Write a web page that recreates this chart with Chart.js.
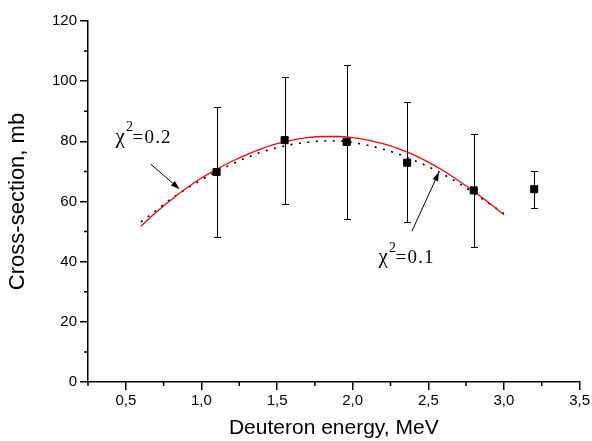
<!DOCTYPE html>
<html lang="en">
<head>
  <meta charset="utf-8">
  <title>Cross-section vs deuteron energy</title>
  <script src="https://cdn.jsdelivr.net/npm/chart.js@4"></script>
  <style>
    body { margin: 0; background: #fff; }
    #wrap { width: 592px; height: 441px; }
  </style>
</head>
<body>
  <div id="wrap"><canvas id="chart"></canvas></div>
  <script>
    // measured points: energy (MeV), cross-section (mb) and error bar limits
    const energy = [1.1, 1.55, 1.96, 2.36, 2.8, 3.2];
    const xsec = [69.8, 80.4, 79.8, 72.9, 63.7, 64.1];
    const errLow = [48.2, 59.1, 54.1, 53.1, 44.9, 57.7];
    const errHigh = [91.3, 101.4, 105.5, 93.1, 82.5, 70.2];

    // fitted curves
    const fitEnergy = [0.6, 0.7, 0.8, 0.9, 1.0, 1.1, 1.2, 1.3, 1.4, 1.5, 1.6, 1.7, 1.8,
      1.9, 2.0, 2.1, 2.2, 2.3, 2.4, 2.5, 2.6, 2.7, 2.8, 2.9, 3.0];
    const fitChi02 = [51.8, 56.4, 60.6, 64.4, 67.8, 70.7, 73.3, 75.6, 77.6, 79.2, 80.4, 81.2, 81.6,
      81.6, 81.2, 80.4, 79.2, 77.6, 75.6, 73.1, 70.2, 66.9, 63.4, 59.6, 55.6];
    const fitChi01 = [53.2, 57.0, 60.9, 64.2, 67.2, 69.9, 72.4, 74.6, 76.5, 77.9, 79.0, 79.7, 80.1,
      80.1, 79.6, 78.7, 77.4, 75.8, 73.8, 71.6, 69.0, 66.1, 62.8, 59.4, 56.0];

    const xTicks = [0.5, 1.0, 1.5, 2.0, 2.5, 3.0, 3.5];
    const yTicks = [0, 20, 40, 60, 80, 100, 120];

    // chi^2 notes: text anchor and arrow tail -> head, all in axis units
    const chiNotes = [
      { value: '0.2', x: 0.432, y: 79.6, from: [0.665, 72.4], to: [0.856, 64.1] },
      { value: '0.1', x: 2.171, y: 39.4, from: [2.391, 50.1], to: [2.571, 69.8] }
    ];

    const sans = '"Liberation Sans", Arial, sans-serif';
    const serif = '"Liberation Serif", "Times New Roman", serif';

    function pts(xs, ys) {
      return xs.map((v, i) => ({ x: v, y: ys[i] }));
    }

    const extras = {
      id: 'extras',
      beforeDatasetsDraw(chart) {
        const { ctx, scales: { x, y } } = chart;
        ctx.save();
        ctx.strokeStyle = '#000';
        ctx.lineWidth = 1;
        energy.forEach((e, i) => {
          const px = Math.round(x.getPixelForValue(e)) + 0.5;
          const top = Math.round(y.getPixelForValue(errHigh[i])) + 0.5;
          const bot = Math.round(y.getPixelForValue(errLow[i])) + 0.5;
          ctx.beginPath();
          ctx.moveTo(px, top); ctx.lineTo(px, bot);
          ctx.moveTo(px - 3.5, top); ctx.lineTo(px + 3.5, top);
          ctx.moveTo(px - 3.5, bot); ctx.lineTo(px + 3.5, bot);
          ctx.stroke();
        });
        ctx.restore();
      },
      afterDraw(chart) {
        const { ctx, scales: { x, y } } = chart;
        ctx.save();
        ctx.strokeStyle = '#000';
        ctx.lineWidth = 1.5;

        // short unlabelled ticks halfway between the labelled ones
        ctx.beginPath();
        xTicks.forEach(t => {
          const px = x.getPixelForValue(t - 0.25);
          ctx.moveTo(px, y.bottom); ctx.lineTo(px, y.bottom + 4);
        });
        yTicks.slice(1).forEach(t => {
          const py = y.getPixelForValue(t - 10);
          ctx.moveTo(x.left, py); ctx.lineTo(x.left - 4, py);
        });
        ctx.stroke();

        // chi^2 labels with arrows
        ctx.fillStyle = '#000';
        ctx.lineWidth = 1;
        chiNotes.forEach(n => {
          const tx = x.getPixelForValue(n.x);
          const ty = y.getPixelForValue(n.y);
          ctx.textBaseline = 'alphabetic';
          ctx.textAlign = 'left';
          ctx.font = '21px ' + serif;
          ctx.fillText('\u03c7', tx, ty);
          ctx.font = '14px ' + serif;
          ctx.fillText('2', tx + 10.5, ty - 11.5);
          ctx.font = '19px ' + serif;
          ctx.letterSpacing = '1.2px';
          ctx.fillText('=' + n.value, tx + 17, ty);
          ctx.letterSpacing = '0px';

          const x0 = x.getPixelForValue(n.from[0]), y0 = y.getPixelForValue(n.from[1]);
          const x1 = x.getPixelForValue(n.to[0]), y1 = y.getPixelForValue(n.to[1]);
          const ang = Math.atan2(y1 - y0, x1 - x0);
          const len = 9, half = 3;
          const bx = x1 - len * Math.cos(ang), by = y1 - len * Math.sin(ang);
          ctx.beginPath();
          ctx.moveTo(x0, y0); ctx.lineTo(bx, by);
          ctx.stroke();
          ctx.beginPath();
          ctx.moveTo(x1, y1);
          ctx.lineTo(bx + half * Math.sin(ang), by - half * Math.cos(ang));
          ctx.lineTo(bx - half * Math.sin(ang), by + half * Math.cos(ang));
          ctx.closePath();
          ctx.fill();
        });
        ctx.restore();
      }
    };

    new Chart(document.getElementById('chart'), {
      type: 'scatter',
      data: {
        datasets: [
          {
            label: 'data',
            data: pts(energy, xsec),
            pointStyle: 'rect',
            pointRadius: 5,
            pointBackgroundColor: '#000',
            pointBorderColor: '#000',
            pointBorderWidth: 1,
            order: 0
          },
          {
            label: 'chi2 = 0.2',
            data: pts(fitEnergy, fitChi02),
            showLine: true,
            borderColor: '#ff0000',
            borderWidth: 1.3,
            pointRadius: 0,
            cubicInterpolationMode: 'monotone',
            order: 1
          },
          {
            label: 'chi2 = 0.1',
            data: pts(fitEnergy, fitChi01),
            showLine: true,
            borderColor: '#000',
            borderWidth: 1.6,
            borderDash: [2, 6.5],
            pointRadius: 0,
            cubicInterpolationMode: 'monotone',
            order: 2
          }
        ]
      },
      options: {
        responsive: true,
        maintainAspectRatio: false,
        animation: false,
        layout: { padding: { top: 21, right: 11, bottom: 0, left: 0 } },
        plugins: {
          legend: { display: false },
          tooltip: { enabled: false }
        },
        scales: {
          x: {
            type: 'linear',
            min: 0.25,
            max: 3.5,
            afterBuildTicks: s => { s.ticks = xTicks.map(v => ({ value: v })); },
            afterFit: s => { s.height = 59; },
            border: { display: true, color: '#000', width: 1.5 },
            grid: { drawOnChartArea: false, drawTicks: true, tickLength: 8, color: '#000', lineWidth: 1.5 },
            ticks: {
              color: '#000',
              padding: 2,
              maxRotation: 0,
              font: { family: sans, size: 15 },
              callback: v => v.toFixed(1).replace('.', ',')
            },
            title: {
              display: true,
              text: 'Deuteron energy, MeV',
              color: '#000',
              font: { family: sans, size: 21 },
              padding: { top: 0, bottom: 0 }
            }
          },
          y: {
            type: 'linear',
            min: 0,
            max: 120,
            afterBuildTicks: s => { s.ticks = yTicks.map(v => ({ value: v })); },
            afterFit: s => { s.width = 88; },
            border: { display: true, color: '#000', width: 1.5 },
            grid: { drawOnChartArea: false, drawTicks: true, tickLength: 8, color: '#000', lineWidth: 1.5 },
            ticks: {
              color: '#000',
              padding: 3,
              font: { family: sans, size: 15 }
            },
            title: {
              display: true,
              text: 'Cross-section, mb',
              color: '#000',
              font: { family: sans, size: 22 },
              padding: { top: 5, bottom: 0 }
            }
          }
        }
      },
      plugins: [extras]
    });
  </script>
</body>
</html>
